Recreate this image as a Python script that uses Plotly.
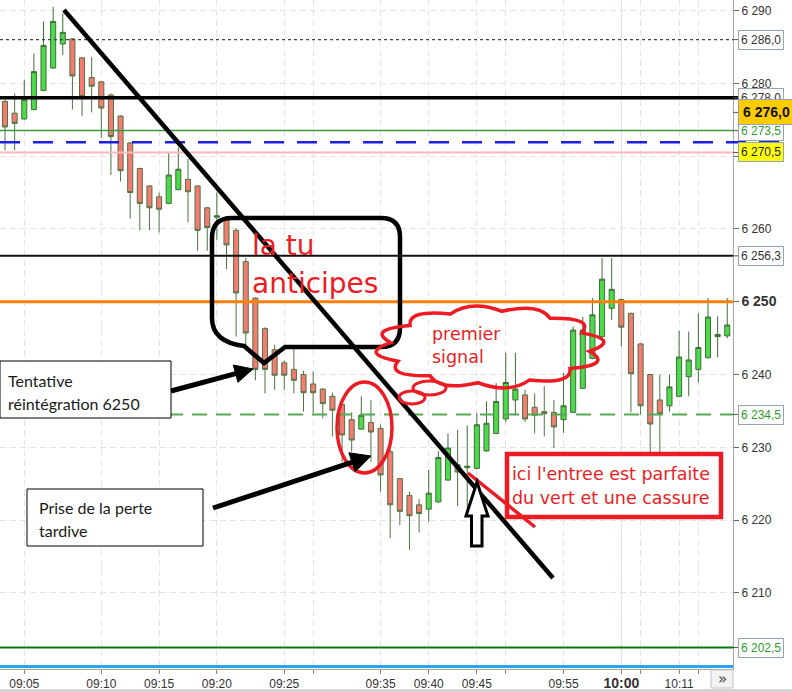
import numpy as np
import plotly.graph_objects as go

# ---------------- data ----------------
candle_index = list(range(76))
open_p = [6277.5, 6275.9, 6275.1, 6276.4, 6279.0, 6282.1, 6285.4, 6286.1, 6283.5, 6280.8,
          6280.2, 6278.4, 6275.5, 6271.8, 6268.3, 6265.9, 6264.4, 6263.5, 6265.4, 6266.8,
          6265.9, 6262.9, 6261.6, 6261.5, 6259.8, 6255.5, 6250.5, 6246.3, 6243.4, 6241.6,
          6240.7, 6240.0, 6238.7, 6238.0, 6237.0, 6235.9, 6233.8, 6232.5, 6233.4, 6232.6,
          6229.4, 6225.7, 6223.4, 6222.1, 6221.5, 6222.5, 6225.5, 6227.6, 6227.2, 6227.1,
          6229.5, 6231.9, 6233.9, 6236.5, 6237.2, 6235.5, 6234.9, 6234.8, 6233.8, 6234.8,
          6238.1, 6242.2, 6245.2, 6249.1, 6250.3, 6248.4, 6244.2, 6240.0, 6236.5, 6235.7,
          6237.0, 6239.7, 6240.7, 6242.3, 6245.2, 6245.3]
high_p = [6278.0, 6278.6, 6280.5, 6284.1, 6288.5, 6290.5, 6289.6, 6286.2, 6283.6, 6283.6,
          6280.3, 6278.6, 6275.6, 6271.9, 6268.4, 6266.0, 6265.0, 6270.5, 6271.2, 6269.6,
          6266.0, 6263.0, 6265.0, 6261.6, 6260.1, 6256.0, 6250.6, 6246.5, 6244.1, 6241.9,
          6243.5, 6240.5, 6240.4, 6238.1, 6237.5, 6236.8, 6234.8, 6237.0, 6236.5, 6233.1,
          6229.9, 6225.8, 6223.9, 6222.9, 6226.9, 6229.5, 6231.9, 6232.4, 6233.0, 6234.7,
          6236.3, 6238.8, 6243.0, 6243.0, 6237.9, 6237.4, 6238.4, 6236.5, 6240.2, 6246.6,
          6247.9, 6250.5, 6256.0, 6256.0, 6250.4, 6248.5, 6244.3, 6240.1, 6240.0, 6240.0,
          6246.0, 6245.9, 6248.4, 6250.5, 6248.0, 6250.5]
low_p = [6270.8, 6270.8, 6275.0, 6276.3, 6279.0, 6282.0, 6283.9, 6276.4, 6275.5, 6276.0,
         6272.5, 6267.4, 6266.5, 6261.4, 6259.8, 6259.8, 6259.5, 6263.4, 6265.3, 6260.9,
         6257.0, 6257.0, 6258.5, 6254.5, 6245.2, 6243.6, 6239.2, 6237.4, 6237.9, 6237.9,
         6237.4, 6234.9, 6234.7, 6234.0, 6231.5, 6228.0, 6229.4, 6232.4, 6228.0, 6223.9,
         6217.5, 6219.3, 6215.9, 6218.3, 6219.8, 6222.4, 6225.4, 6221.9, 6221.4, 6227.0,
         6229.4, 6231.8, 6233.5, 6234.4, 6233.5, 6231.9, 6231.5, 6229.9, 6232.0, 6234.7,
         6238.0, 6242.1, 6245.1, 6247.5, 6243.9, 6234.8, 6234.5, 6228.5, 6228.0, 6234.9,
         6236.9, 6237.0, 6238.9, 6242.2, 6242.4, 6245.0]
close_p = [6274.0, 6274.5, 6277.8, 6281.6, 6285.2, 6288.5, 6287.0, 6281.0, 6278.2, 6279.6,
           6276.6, 6272.7, 6268.0, 6265.0, 6263.5, 6262.9, 6262.7, 6267.4, 6268.2, 6265.1,
           6259.8, 6260.2, 6261.8, 6257.8, 6251.2, 6245.7, 6240.7, 6240.7, 6239.9, 6239.9,
           6239.2, 6237.5, 6237.5, 6236.0, 6235.1, 6231.7, 6231.0, 6234.4, 6232.1, 6226.2,
           6222.1, 6221.2, 6220.6, 6220.9, 6223.7, 6228.6, 6229.9, 6226.6, 6227.4, 6233.1,
           6233.3, 6236.3, 6238.9, 6238.0, 6233.9, 6234.4, 6234.6, 6232.8, 6235.7, 6246.1,
           6246.1, 6248.2, 6253.1, 6251.7, 6246.5, 6240.1, 6235.7, 6233.2, 6234.6, 6238.3,
           6242.4, 6242.0, 6243.7, 6247.9, 6245.5, 6246.8]

time_tick_index = [2, 10, 16, 22, 29, 32, 39, 44, 49, 52, 58, 64, 66, 70, 72]
time_tick_text = ["09:05", "09:10", "09:15", "09:20", "09:25", "", "09:35", "09:40", "09:45", "",
                  "09:55", "<b><span style='font-size:14px'>10:00</span></b>", "", "10:11", ""]

price_ticks = [6210, 6220, 6230, 6240, 6250, 6260, 6270, 6280, 6290]
price_tick_text = ["6 210", "6 220", "6 230", "6 240",
                   "<b><span style='font-size:14px'>6 250</span></b>",
                   "6 260", "", "6 280", "6 290"]

# horizontal levels: value, label
level_286 = (6286.0, "6 286,0")
level_278 = (6278.0, "6 278,0")
level_276 = (6276.0, "6 276,0")
level_2735 = (6273.5, "6 273,5")
level_blue = 6271.9
level_2705 = (6270.5, "6 270,5")
level_2563 = (6256.3, "6 256,3")
level_250 = 6250.0
level_2345 = (6234.5, "6 234,5")
level_2025 = (6202.5, "6 202,5")

# ---------------- geometry helpers ----------------
W_PLOT, H_PLOT = 733, 669
X_LEFT = -5 / 9.63
X_RIGHT = (733 - 5) / 9.63
Y_TOP = 6250 + 301.7 / 7.28
Y_BOT = 6250 - (669 - 301.7) / 7.28


def X(px):
    return X_LEFT + px / W_PLOT * (X_RIGHT - X_LEFT)


def Y(py):
    return Y_TOP - py / H_PLOT * (Y_TOP - Y_BOT)


def P(px, py):
    return f"{X(px):.4f},{Y(py):.4f}"


def PX(px):
    return px / W_PLOT


def PY(py):
    return 1 - py / H_PLOT


RED = "#ED1C24"
shapes = []
annotations = []

# gridline 10:00 solid
shapes.append(dict(type="line", xref="x", yref="paper", x0=64, x1=64, y0=0, y1=1,
                   line=dict(color="#D6DBE6", width=1), layer="below"))

# level lines
def hline(val, color, width, dash="solid", x1px=733):
    shapes.append(dict(type="line", xref="paper", yref="y", x0=0, x1=PX(x1px), y0=val, y1=val,
                       line=dict(color=color, width=width, dash=dash), layer="above"))

hline(level_286[0], "#444444", 1.3, "3px,3px")
hline(level_2705[0], "#FFB8B8", 2)
hline(level_2735[0], "#3C963C", 1.5)
hline(level_blue, "#1F1FE0", 2.5, "20px,13px", 790)
hline(level_278[0], "#000000", 3.5, x1px=738)
hline(level_2563[0], "#111111", 2)
hline(level_250, "#FF8000", 3)
hline(level_2345[0], "#55AA55", 2, "15px,9px")
hline(level_2025[0], "#0A780A", 2)

# small ticks for the level labels
for v in [level_286[0], level_278[0], level_276[0], level_2735[0], level_2705[0],
          level_2563[0], level_2345[0], level_2025[0]]:
    shapes.append(dict(type="line", xref="paper", yref="y", x0=1, x1=PX(738), y0=v, y1=v,
                       line=dict(color="#555555", width=1)))

# blue bottom line
shapes.append(dict(type="line", xref="paper", yref="paper", x0=0, x1=1, y0=PY(666.5), y1=PY(666.5),
                   line=dict(color="#2EA2F2", width=3)))

# callout "la tu anticipes"
callout = (f"M{P(232,218)} L{P(381,218)} Q{P(400,218)} {P(400,237)} L{P(400,328)} "
           f"Q{P(400,347)} {P(381,347)} L{P(285,347)} L{P(264,363)} L{P(244,346)} "
           f"Q{P(212,342)} {P(212,318)} L{P(212,238)} Q{P(212,218)} {P(232,218)} Z")
shapes.append(dict(type="path", xref="x", yref="y", path=callout,
                   line=dict(color="black", width=4.5)))

# diagonal trend line
shapes.append(dict(type="line", xref="x", yref="y", x0=X(64), y0=Y(10), x1=X(553), y1=Y(578),
                   line=dict(color="black", width=4.5)))

# red ellipse
shapes.append(dict(type="circle", xref="x", yref="y", x0=X(337), x1=X(392), y0=Y(473), y1=Y(382),
                   line=dict(color=RED, width=3.5)))

# cloud "premier signal"
cx, cy, rx, ry, nb, k = 490, 347, 100, 36, 12, 1.33
ang = np.linspace(0, 2 * np.pi, nb + 1) + 0.12
pts = [(cx + rx * np.cos(a), cy + ry * np.sin(a)) for a in ang]
cloud = f"M{P(*pts[0])}"
for i in range(nb):
    am = (ang[i] + ang[i + 1]) / 2
    c = (cx + k * rx * np.cos(am), cy + k * ry * np.sin(am))
    cloud += f" Q{P(*c)} {P(*pts[i + 1])}"
cloud += " Z"
shapes.append(dict(type="path", xref="x", yref="y", path=cloud,
                   line=dict(color=RED, width=3.5)))
shapes.append(dict(type="circle", xref="x", yref="y", x0=X(413), x1=X(446), y0=Y(395), y1=Y(381),
                   line=dict(color=RED, width=3)))
shapes.append(dict(type="circle", xref="x", yref="y", x0=X(399), x1=X(425), y0=Y(404), y1=Y(391),
                   line=dict(color=RED, width=3)))


def arrow(x0, y0, x1, y1, hl, hw, lw):
    dx, dy = x1 - x0, y1 - y0
    L = np.hypot(dx, dy)
    ux, uy = dx / L, dy / L
    nx, ny = -uy, ux
    bx, by = x1 - hl * ux, y1 - hl * uy
    shapes.append(dict(type="line", xref="x", yref="y", x0=X(x0), y0=Y(y0),
                       x1=X(bx + 2 * ux), y1=Y(by + 2 * uy), line=dict(color="black", width=lw)))
    tri = f"M{P(x1, y1)} L{P(bx + hw * nx, by + hw * ny)} L{P(bx - hw * nx, by - hw * ny)} Z"
    shapes.append(dict(type="path", xref="x", yref="y", path=tri, fillcolor="black",
                       line=dict(color="black", width=1)))


# boxes
shapes.append(dict(type="rect", xref="x", yref="y", x0=X(0), x1=X(171), y0=Y(418), y1=Y(361),
                   fillcolor="white", line=dict(color="black", width=1)))
shapes.append(dict(type="rect", xref="x", yref="y", x0=X(27), x1=X(203), y0=Y(546), y1=Y(489),
                   fillcolor="white", line=dict(color="black", width=1)))
arrow(171, 391, 253, 369, 18, 9, 5)
arrow(213, 508, 371, 456, 20, 10, 5)

shapes.append(dict(type="rect", xref="x", yref="y", x0=X(507), x1=X(721), y0=Y(517), y1=Y(454),
                   fillcolor="white", line=dict(color=RED, width=4.5)))
shapes.append(dict(type="line", xref="x", yref="y", x0=X(468), y0=Y(473), x1=X(535), y1=Y(527),
                   line=dict(color=RED, width=3.5)))

# hollow up arrow
up = (f"M{P(477,482)} L{P(488,516)} L{P(482,516)} L{P(482,546)} L{P(471.5,546)} "
      f"L{P(471.5,516)} L{P(466,516)} Z")
shapes.append(dict(type="path", xref="x", yref="y", path=up, fillcolor="white",
                   line=dict(color="black", width=3)))

# bottom strip and >> button
shapes.append(dict(type="rect", xref="paper", yref="paper", x0=0, x1=PX(792), y0=PY(692), y1=PY(689),
                   fillcolor="#D4D4D4", line=dict(width=0)))
shapes.append(dict(type="rect", xref="paper", yref="paper", x0=PX(711), x1=PX(733), y0=PY(688), y1=PY(670),
                   fillcolor="#F2F2F2", line=dict(color="#C4C4C4", width=1)))


def txt(px, py, s, size, color, family, xanchor="left"):
    annotations.append(dict(x=X(px), y=Y(py), xref="x", yref="y", text=s, showarrow=False,
                            xanchor=xanchor, yanchor="middle",
                            font=dict(size=size, color=color, family=family)))


txt(250, 245, "la tu", 28, RED, "DejaVu Sans")
txt(250, 283, "anticipes", 28, RED, "DejaVu Sans")
txt(430, 334, "premier", 17.5, RED, "DejaVu Sans")
txt(430, 357, "signal", 17.5, RED, "DejaVu Sans")
txt(510, 474, "ici l'entree est parfaite", 17.5, RED, "DejaVu Sans")
txt(510, 498, "du vert et une cassure", 17.5, RED, "DejaVu Sans")
txt(6, 380, "Tentative", 16, "#1A1A1A", "Lato")
txt(6, 403, "réintégration 6250", 16, "#1A1A1A", "Lato")
txt(37, 507, "Prise de la perte", 16, "#1A1A1A", "Lato")
txt(37, 530, "tardive", 16, "#1A1A1A", "Lato")

annotations.append(dict(x=PX(722), y=PY(679), xref="paper", yref="paper", text="»", showarrow=False,
                        xanchor="center", yanchor="middle",
                        font=dict(size=15, color="#444444", family="DejaVu Sans")))


def level_label(lv, color="#333333", bg="white", size=12, bold=False, pad=2):
    t = f"<b>{lv[1]}</b>" if bold else lv[1]
    annotations.append(dict(x=1, y=lv[0], xref="paper", yref="y", text=t, showarrow=False,
                            xanchor="left", yanchor="middle", xshift=5,
                            font=dict(size=size, color=color, family="Liberation Sans, Arial"),
                            bgcolor=bg, bordercolor="#95A3B3", borderwidth=1, borderpad=pad))


level_label(level_286)
level_label(level_278)
level_label(level_2735, color="#2E9A2E")
level_label(level_276, bg="#FFCC00", size=14, bold=True, color="#111111", pad=4)
level_label(level_2705, bg="#FFFF10", color="#222222")
level_label(level_2563)
level_label(level_2345, color="#2E9A2E")
level_label(level_2025, color="#2E9A2E")

fig = go.Figure(go.Candlestick(
    x=candle_index, open=open_p, high=high_p, low=low_p, close=close_p,
    increasing=dict(fillcolor="#4CDA4C", line=dict(color="#3F6E37", width=1)),
    decreasing=dict(fillcolor="#F47A72", line=dict(color="#4F7443", width=1)),
    whiskerwidth=0, hoverinfo="skip", showlegend=False))

fig.update_layout(
    width=792, height=692,
    margin=dict(l=0, r=59, t=0, b=23),
    paper_bgcolor="white", plot_bgcolor="white",
    boxgap=0.25,
    showlegend=False,
    shapes=shapes, annotations=annotations,
    xaxis=dict(range=[X_LEFT, X_RIGHT], tickvals=time_tick_index, ticktext=time_tick_text,
               showgrid=True, gridcolor="#E2E4EA", griddash="6px,4px", gridwidth=1,
               ticks="outside", ticklen=4, tickcolor="#888888",
               showline=True, linecolor="#A8A8A8", zeroline=False,
               rangeslider=dict(visible=False),
               tickfont=dict(size=12, color="#333333", family="Liberation Sans, Arial")),
    yaxis=dict(range=[Y_BOT, Y_TOP], side="right", tickvals=price_ticks, ticktext=price_tick_text,
               showgrid=True, gridcolor="#E2E4EA", griddash="6px,4px", gridwidth=1,
               ticks="outside", ticklen=5, tickcolor="#666666",
               showline=True, linecolor="#A8A8A8", zeroline=False,
               tickfont=dict(size=12, color="#333333", family="Liberation Sans, Arial")),
)

fig.write_html("out.html", config={"displayModeBar": False},
               post_script="document.body.style.margin='0px';document.body.style.overflow='hidden';")
